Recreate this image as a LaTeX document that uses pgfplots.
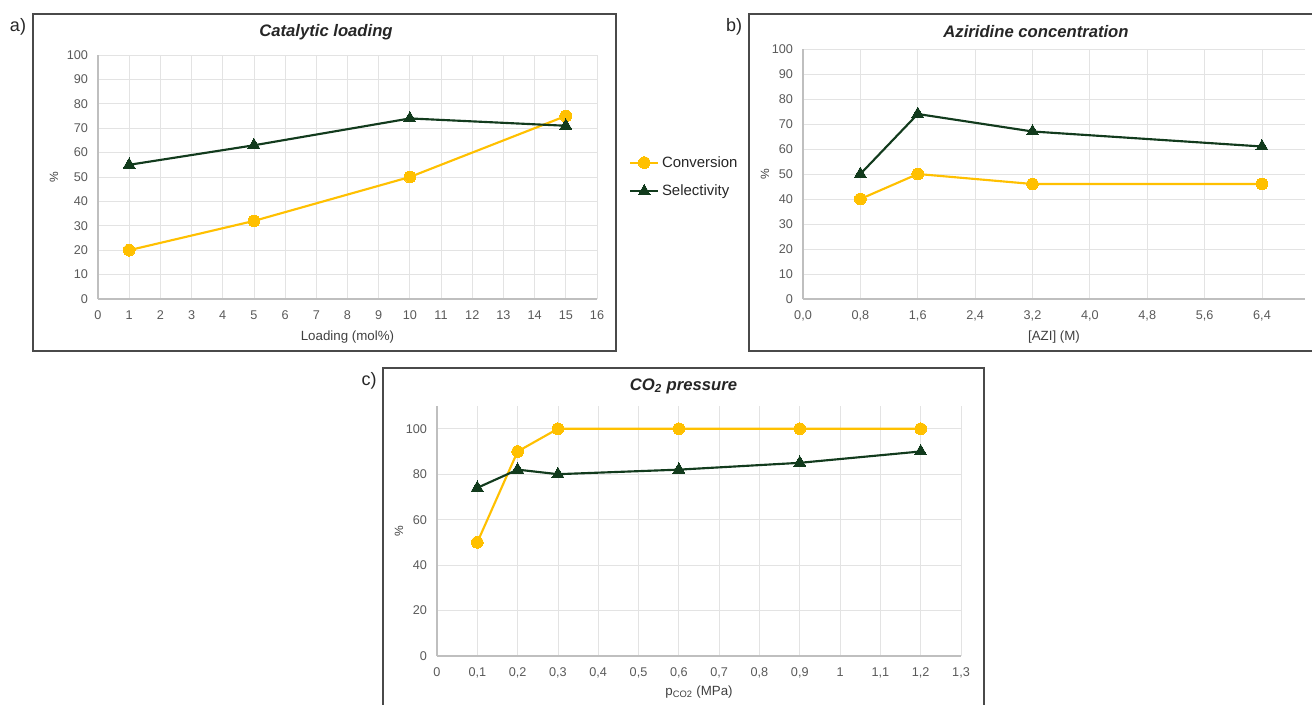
\documentclass[border=0pt]{standalone}
\usepackage{fontspec}
\setmainfont{Liberation Sans}
\usepackage{pgfplots}
\pgfplotsset{compat=1.18}
\definecolor{cyel}{HTML}{FFC000}
\definecolor{cgrn}{HTML}{123B1D}
\definecolor{tickc}{HTML}{595959}
\definecolor{gridc}{HTML}{E3E3E3}
\definecolor{axc}{HTML}{BFBFBF}
\definecolor{boxc}{HTML}{4A4A4A}
\pgfplotsset{
  panel/.style={
    scale only axis,
    axis x line=bottom, axis y line=left,
    axis line style={draw=axc, line width=0.8pt, -},
    grid=major, major grid style={draw=gridc, line width=0.6pt},
    major tick length=0pt,
    tick label style={font=\fontsize{9.5}{11}\selectfont, text=tickc},
    /pgf/number format/assume math mode=true,
    label style={font=\fontsize{10}{12}\selectfont, text=black!75},
    ylabel style={font=\fontsize{9}{11}\selectfont},
    yticklabel style={xshift=-4pt},
    xticklabel style={yshift=-5pt},
    clip=false,
  },
  conv/.style={color=cyel, line width=1.6pt, mark=*, mark size=4.4pt, mark options={fill=cyel, draw=cyel, line width=0pt}},
  sel/.style={color=cgrn, line width=1.6pt, mark=triangle*, mark size=5.2pt, mark options={fill=cgrn, draw=cgrn, line width=0pt}},
}
\begin{document}
\begin{tikzpicture}
\clip (0pt,0pt) rectangle (984pt,528pt);
\path[use as bounding box] (0pt,0pt) rectangle (984pt,528pt);
% boxes
\draw[boxc, line width=1.3pt] (24.75pt,264.75pt) rectangle (462pt,517.5pt);
\draw[boxc, line width=1.3pt] (561.75pt,264.75pt) rectangle (992pt,517.5pt);
\draw[boxc, line width=1.3pt] (287.25pt,-6pt) rectangle (738pt,252pt);
% panel letters
\node[font=\fontsize{13.5}{15}\selectfont, text=black!85] at (13.5pt,507.75pt) {a)};
\node[font=\fontsize{13.5}{15}\selectfont, text=black!85] at (550.5pt,507.75pt) {b)};
\node[font=\fontsize{13.5}{15}\selectfont, text=black!85] at (276.75pt,242.25pt) {c)};
% titles
\node[font=\fontsize{12.5}{14}\selectfont\bfseries\itshape, text=black!85] at (244.5pt,504pt) {Catalytic loading};
\node[font=\fontsize{12.5}{14}\selectfont\bfseries\itshape, text=black!85] at (777pt,504pt) {Aziridine concentration};
\node[font=\fontsize{12.5}{14}\selectfont\bfseries\itshape, text=black!85] at (512.6pt,238.5pt) {CO\textsubscript{2} pressure};

% panel a
\begin{axis}[panel,
  at={(73.5pt,303.75pt)}, anchor=south west,
  width=374.25pt, height=183pt,
  xmin=0, xmax=16, ymin=0, ymax=100,
  xtick={0,1,...,16}, ytick={0,10,...,100},
  xlabel={Loading (mol\%)}, ylabel={\%},
  xlabel style={at={(axis description cs:0.5,0)}, anchor=center, yshift=-28.5pt},
  ylabel style={at={(axis description cs:0,0.5)}, anchor=center, yshift=33pt},
  legend style={at={(1.056,0.5)}, anchor=west, draw=none, fill=none,
    font=\fontsize{11.2}{13}\selectfont, text=black!85, row sep=8pt,
    cells={anchor=west}},
  legend cell align=left,
  legend image code/.code={\draw[mark repeat=2,mark phase=2,#1] plot coordinates {(0pt,0pt) (10.5pt,0pt) (21pt,0pt)};},
]
\addplot[conv] coordinates {(1,20) (5,32) (10,50) (15,75)};
\addlegendentry{Conversion}
\addplot[sel] coordinates {(1,55) (5,63) (10,74) (15,71)};
\addlegendentry{Selectivity}
\end{axis}

% panel b
\begin{axis}[panel,
  at={(602.25pt,303.75pt)}, anchor=south west,
  width=376.5pt, height=187.5pt,
  xmin=0, xmax=7.0, ymin=0, ymax=100,
  xtick={0,0.8,1.6,2.4,3.2,4.0,4.8,5.6,6.4}, ytick={0,10,...,100},
  xticklabel style={/pgf/number format/.cd, fixed, fixed zerofill, precision=1, use comma},
  xlabel={[AZI] (M)}, ylabel={\%},
  xlabel style={at={(axis description cs:0.5,0)}, anchor=center, yshift=-28.5pt},
  ylabel style={at={(axis description cs:0,0.5)}, anchor=center, yshift=28.5pt},
]
\addplot[conv] coordinates {(0.8,40) (1.6,50) (3.2,46) (6.4,46)};
\addplot[sel] coordinates {(0.8,50) (1.6,74) (3.2,67) (6.4,61)};
\end{axis}

% panel c
\begin{axis}[panel,
  at={(327.75pt,36pt)}, anchor=south west,
  width=393pt, height=187.5pt,
  xmin=0, xmax=1.3, ymin=0, ymax=110,
  xtick={0,0.1,0.2,0.3,0.4,0.5,0.6,0.7,0.8,0.9,1.0,1.1,1.2,1.3}, ytick={0,20,...,100},
  xticklabel style={/pgf/number format/.cd, fixed, precision=1, use comma},
  xlabel={p\textsubscript{CO2} (MPa)}, ylabel={\%},
  xlabel style={at={(axis description cs:0.5,0)}, anchor=center, yshift=-27pt},
  ylabel style={at={(axis description cs:0,0.5)}, anchor=center, yshift=28.5pt},
]
\addplot[conv] coordinates {(0.1,50) (0.2,90) (0.3,100) (0.6,100) (0.9,100) (1.2,100)};
\addplot[sel] coordinates {(0.1,74) (0.2,82) (0.3,80) (0.6,82) (0.9,85) (1.2,90)};
\end{axis}
\end{tikzpicture}
\end{document}
